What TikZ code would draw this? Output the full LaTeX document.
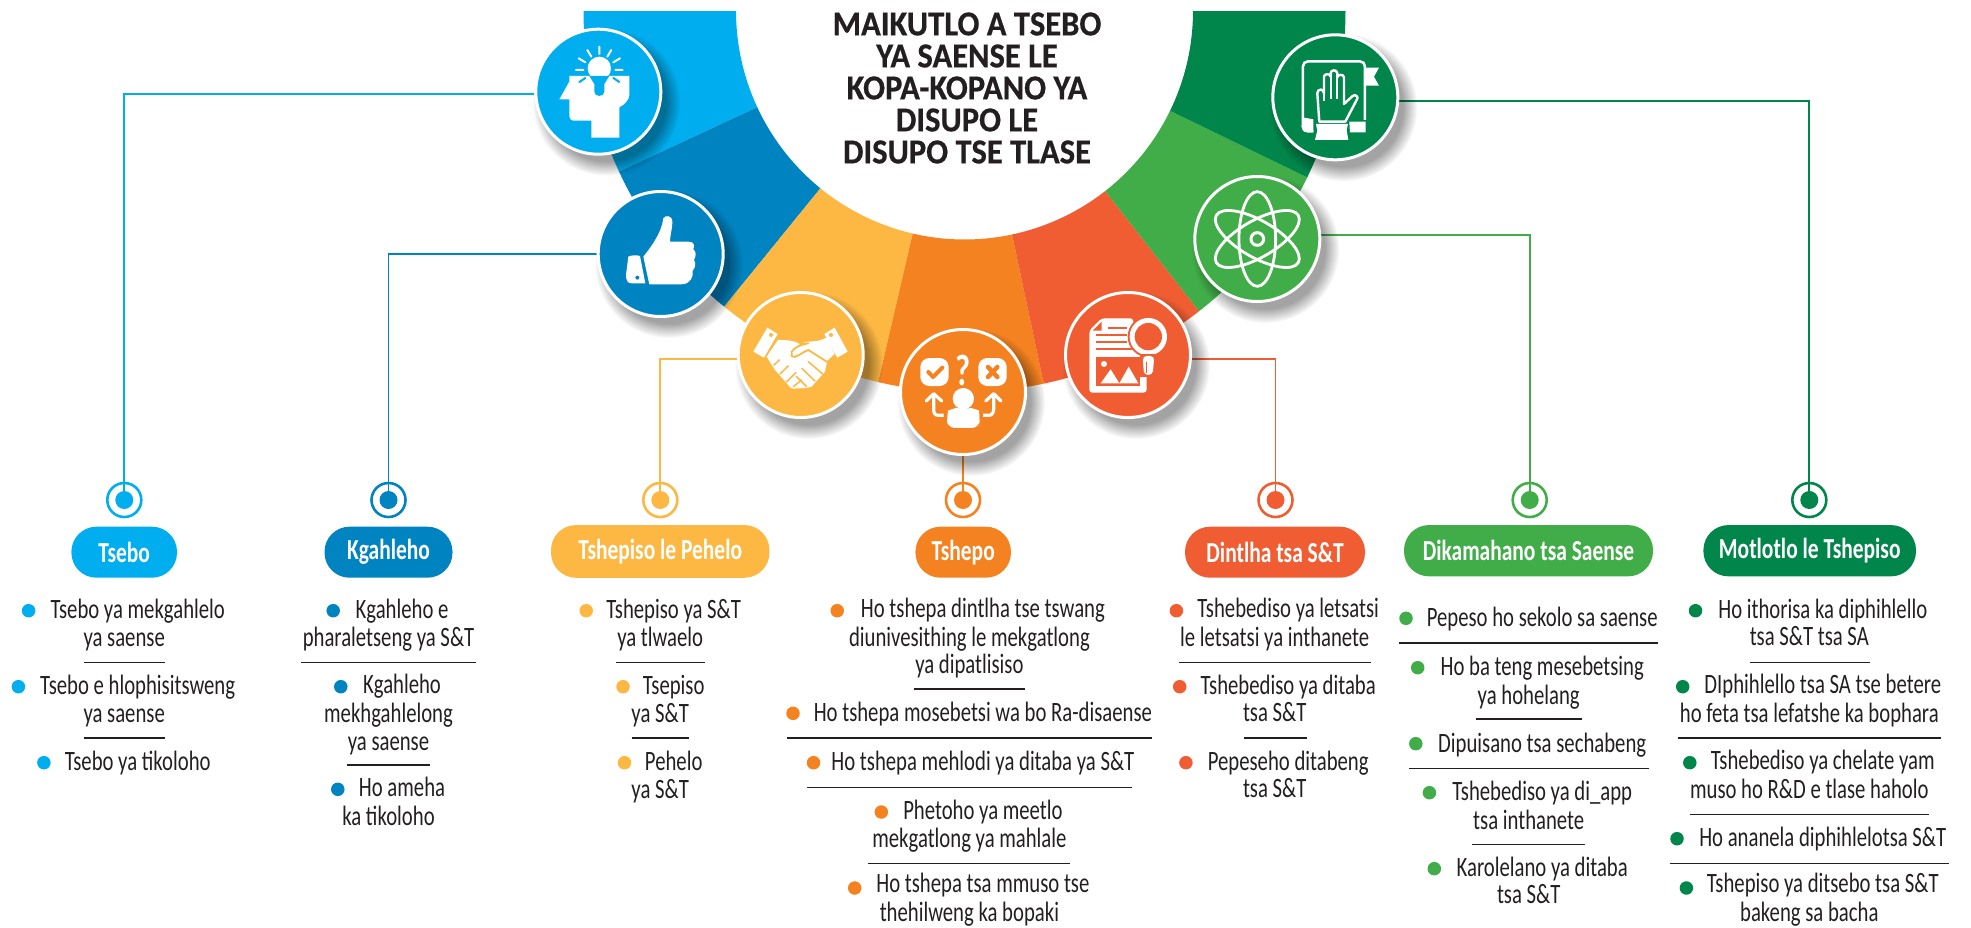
\documentclass[tikz,border=0pt]{standalone}
\usepackage{fontspec}
\setmainfont{Carlito}[FakeStretch=0.74]
\newfontfamily\ttlfont{Carlito Bold}[FakeStretch=0.93,FakeBold=0.5]
\usetikzlibrary{fadings,backgrounds}
\definecolor{ink}{HTML}{231F20}
\definecolor{cA}{HTML}{00AEEF}
\definecolor{cB}{HTML}{0083C1}
\definecolor{cC}{HTML}{FDB843}
\definecolor{cD}{HTML}{F58220}
\definecolor{cE}{HTML}{F15D33}
\definecolor{cF}{HTML}{41AD49}
\definecolor{cG}{HTML}{00854A}
\newcommand\stt{\rule[-8.25pt]{0pt}{27.5pt}}
\newcommand\seg[3]{\fill[#3] plot[domain=#1:#2,samples=40] ({964.5+228.5*cos(\x)},{11+228.5*sin(\x)}) -- plot[domain=#2:#1,samples=40] ({964.5+381*cos(\x)},{11+381*sin(\x)}) -- cycle;}
\newcommand\shad[2]{\fill[black,opacity=.36,path fading=circle with fuzzy edge 20 percent] (#1+8,#2+10) circle[radius=74];}
\newcommand\icon[4]{\shad{#2}{#3}\node[iconc,fill=#4] (#1) at (#2,#3) {};}
\newcommand\targ[4]{\node[tdot,fill=#4] (#1) at (#2,#3) {};\node[tring,draw=#4] (#1r) at (#2,#3) {};}
\newcommand\itm[4]{\node[itxt] (#1) at (#2,#3+2) {\stt\hspace*{27pt}#4\stt};}
\newcommand\bul[4]{\node[bdot,fill=#4] (#1) at (#2,#3) {};}
\newcommand\rl[3]{\draw[rulel] (#1,#3) -- (#2,#3);}
\newcommand\pill[7]{\node[pilln,fill=#7,minimum width=#4pt,minimum height=#5pt] (#1) at (#2,#3) {#6};}
\tikzset{
 iconc/.style={circle,draw=white,line width=3pt,minimum size=125pt,inner sep=0pt},
 tdot/.style={circle,minimum size=18pt,inner sep=0pt},
 tring/.style={circle,line width=2.6pt,minimum size=34pt,inner sep=0pt},
 bdot/.style={circle,minimum size=13.5pt,inner sep=0pt},
 itxt/.style={align=center,inner sep=0pt,text=ink,font=\fontsize{28}{27.5}\selectfont},
 pilln/.style={rounded corners=25pt,inner sep=0pt,text=white,font=\fontsize{29}{29}\selectfont\bfseries},
 rulel/.style={draw=ink,line width=1.2pt},
 conn/.style={line width=1.8pt},
 ray/.style={white,line width=2pt,line cap=round},
}
\begin{document}
\begin{tikzpicture}[x=1pt,y=-1pt]
\useasboundingbox (0,0) rectangle (1971,927);
% ring
\seg{180}{155.1}{cA}
\seg{155.1}{129.1}{cB}
\seg{129.1}{103.1}{cC}
\seg{103.1}{78}{cD}
\seg{78}{52}{cE}
\seg{52}{25.9}{cF}
\seg{25.9}{0}{cG}
% icon discs
\icon{ic1}{598.3}{91.7}{cA}
\icon{ic2}{660.7}{254}{cB}
\icon{ic3}{800.7}{355}{cC}
\icon{ic5}{1128}{355}{cE}
\icon{ic4}{963}{392}{cD}
\icon{ic6}{1257.3}{239}{cF}
\icon{ic7}{1335.3}{97.3}{cG}
% title
\node[align=center,inner sep=0pt,text=ink,font=\fontsize{35}{32}\ttlfont] (title) at (967,88)
 {MAIKUTLO A TSEBO\\YA SAENSE LE\\KOPA-KOPANO YA\\DISUPO LE\\DISUPO TSE TLASE};
% targets
\targ{t1}{124.3}{500}{cA}
\targ{t2}{388.5}{500}{cB}
\targ{t3}{660.3}{500}{cC}
\targ{t4}{963}{500}{cD}
\targ{t5}{1275.5}{500}{cE}
\targ{t6}{1529.7}{500}{cF}
\targ{t7}{1809.3}{500}{cG}
% connectors
\begin{pgfonlayer}{background}
\draw[conn,cA] ([yshift=-2pt]ic1.west) -| (t1);
\draw[conn,cB] (ic2.west) -| (t2);
\draw[conn,cC] ([yshift=-4pt]ic3.west) -| (t3);
\draw[conn,cD] (ic4.south) -- (t4);
\draw[conn,cE] ([yshift=-4pt]ic5.east) -| (t5);
\draw[conn,cF] ([yshift=4.3pt]ic6.east) -| (t6);
\draw[conn,cG] ([yshift=-3.4pt]ic7.east) -| (t7);
\end{pgfonlayer}
% pills
\pill{p1}{124.2}{552.2}{105.6}{51}{Tsebo}{cA}
\pill{p2}{388.5}{552.2}{128}{51}{Kgahleho}{cB}
\pill{p3}{660.2}{551.4}{218.4}{52.7}{Tshepiso le Pehelo}{cC}
\pill{p4}{963.2}{552.2}{95.5}{51}{Tshepo}{cD}
\pill{p5}{1275}{552.2}{180}{51}{Dintlha tsa S\&T}{cE}
\pill{p6}{1528.5}{550.7}{249}{51.3}{Dikamahano tsa Saense}{cF}
\pill{p7}{1809.7}{550.7}{212.6}{51.3}{Motlotlo le Tshepiso}{cG}
% column 1
\bul{b11}{28.6}{610.7}{cA}\itm{i11}{124.2}{625}{Tsebo ya mekgahlelo\\ya saense}\rl{83.7}{164.8}{662.3}
\bul{b12}{18.4}{686.7}{cA}\itm{i12}{124.2}{701}{Tsebo e hlophisitsweng\\ya saense}\rl{83.7}{164.8}{738}
\bul{b13}{43.9}{762.7}{cA}\itm{i13}{124.2}{763}{Tsebo ya tikoloho}
% column 2
\bul{b21}{333.2}{610.7}{cB}\itm{i21}{388.5}{625}{Kgahleho e\\pharaletseng ya S\&T}\rl{301}{476}{662.3}
\bul{b22}{340.8}{686.7}{cB}\itm{i22}{388.5}{714.3}{Kgahleho\\mekhgahlelong\\ya saense}\rl{347.4}{429.6}{765}
\bul{b23}{337.8}{789.3}{cB}\itm{i23}{388.5}{803.3}{Ho ameha\\ka tikoloho}
% column 3
\bul{b31}{586.2}{610.7}{cC}\itm{i31}{660.2}{625}{Tshepiso ya S\&T\\ya tlwaelo}\rl{615.8}{704.6}{662.3}
\bul{b32}{623}{686.7}{cC}\itm{i32}{660.2}{701}{Tsepiso\\ya S\&T}\rl{631.6}{689.3}{738}
\bul{b33}{624.5}{762.7}{cC}\itm{i33}{660.2}{777}{Pehelo\\ya S\&T}
% column 4
\bul{b41}{837.2}{610.7}{cD}\itm{i41}{969.4}{638}{Ho tshepa dintlha tse tswang\\diunivesithing le mekgatlong\\ya dipatlisiso}\rl{913.9}{1025}{689}
\bul{b42}{793}{713.3}{cD}\itm{i42}{969.4}{714.3}{Ho tshepa mosebetsi wa bo Ra-disaense}\rl{786.5}{1152}{738}
\bul{b43}{813.5}{762.7}{cD}\itm{i43}{969.4}{763}{Ho tshepa mehlodi ya ditaba ya S\&T}\rl{806.5}{1132}{787.7}
\bul{b44}{881.3}{812}{cD}\itm{i44}{969.4}{826}{Phetoho ya meetlo\\mekgatlong ya mahlale}\rl{868}{1070}{863.7}
\bul{b45}{854.7}{888}{cD}\itm{i45}{969.4}{899.5}{Ho tshepa tsa mmuso tse\\thehilweng ka bopaki}
% column 5
\bul{b51}{1176.4}{610.7}{cE}\itm{i51}{1274.7}{624.5}{Tshebediso ya letsatsi\\le letsatsi ya inthanete}\rl{1178.5}{1371}{662.3}
\bul{b52}{1179.7}{686.7}{cE}\itm{i52}{1274.7}{700.5}{Tshebediso ya ditaba\\tsa S\&T}\rl{1243.5}{1306.8}{738}
\bul{b53}{1185.9}{762.7}{cE}\itm{i53}{1274.7}{776.5}{Pepeseho ditabeng\\tsa S\&T}
% column 6
\bul{b61}{1406}{618.3}{cF}\itm{i61}{1528.7}{619}{Pepeso ho sekolo sa saense}\rl{1399.2}{1658.2}{643}
\bul{b62}{1417.7}{667.7}{cF}\itm{i62}{1528.7}{682.3}{Ho ba teng mesebetsing\\ya hohelang}\rl{1476}{1581.7}{719}
\bul{b63}{1415.8}{743.7}{cF}\itm{i63}{1528.7}{744.7}{Dipuisano tsa sechabeng}\rl{1409}{1648.8}{768.7}
\bul{b64}{1429.4}{792.7}{cF}\itm{i64}{1528.7}{807.3}{Tshebediso ya di\_app\\tsa inthanete}\rl{1472.3}{1585.4}{844.7}
\bul{b65}{1434.3}{868.7}{cF}\itm{i65}{1528.7}{882.6}{Karolelano ya ditaba\\tsa S\&T}
% column 7
\bul{b71}{1695.5}{610.7}{cG}\itm{i71}{1809.3}{624.5}{Ho ithorisa ka diphihlello\\tsa S\&T tsa SA}\rl{1749.8}{1869.6}{662.3}
\bul{b72}{1682.7}{686.7}{cG}\itm{i72}{1809.3}{700.6}{DIphihlello tsa SA tse betere\\ho feta tsa lefatshe ka bophara}\rl{1678}{1941.3}{738}
\bul{b73}{1689.8}{762.7}{cG}\itm{i73}{1809.3}{776.5}{Tshebediso ya chelate yam\\muso ho R\&D e tlase haholo}\rl{1689.8}{1929.2}{814.3}
\bul{b74}{1677}{838.7}{cG}\itm{i74}{1809.3}{839.3}{Ho ananela diphihlelotsa S\&T}\rl{1669.9}{1949.2}{863.7}
\bul{b75}{1686.4}{888}{cG}\itm{i75}{1809.3}{899.5}{Tshepiso ya ditsebo tsa S\&T\\bakeng sa bacha}
% ---------- icons, in crop coordinates
\begin{scope}[shift={(500,0)},x=.3333pt,y=-.3333pt]
% head
\fill[white] (298,205) circle[radius=35];
\fill[white] (208,228) -- (388,228) -- (388,285) .. controls (388,300) and (372,315) .. (358,322) -- (358,413) -- (274,413) -- (274,362) -- (222,362) .. controls (212,362) and (208,355) .. (208,345) -- (208,298) -- (178,298) -- (208,245) -- cycle;
\fill[cA] (268,228) -- (328,228) -- (313,252) -- (313,275) .. controls (313,292) and (283,292) .. (283,275) -- (283,252) -- cycle;
\draw[ray] (298,140) -- (298,162) (262,150) -- (274,170) (334,150) -- (322,170) (236,175) -- (256,187) (360,175) -- (340,187) (228,210) -- (250,210) (346,210) -- (368,210);
\draw[ray,cA] (238,246) -- (256,234) (358,246) -- (340,234);
% thumb
\fill[white] (385,770) .. controls (395,765) and (410,765) .. (420,768) -- (436,850) -- (395,850) .. controls (382,850) and (378,840) .. (378,825) -- cycle;
\fill[cB] (412,833) circle[radius=6];
\fill[white] (490,655) .. controls (495,645) and (517,645) .. (517,665) .. controls (517,690) and (510,705) .. (510,725) -- (565,725) .. controls (582,725) and (585,735) .. (580,748) .. controls (590,755) and (588,770) .. (582,780) .. controls (590,790) and (585,805) .. (578,812) .. controls (582,830) and (570,853) .. (545,853) -- (448,853) -- (430,770) .. controls (450,745) and (485,700) .. (490,655) -- cycle;
% handshake
\fill[white] (802,983) -- (833,1002) -- (792,1073) -- (760,1055) -- cycle;
\fill[white] (1004,983) -- (973,1002) -- (1012,1073) -- (1043,1055) -- cycle;
\fill[cC] (813,1005) circle[radius=6] (993,1005) circle[radius=6];
\fill[white] (834,1020) .. controls (855,1020) and (880,1020) .. (900,1032) .. controls (925,1020) and (950,1028) .. (968,1018) -- (982,1012) -- (1004,1062) -- (982,1082) -- (975,1115) -- (935,1160) .. controls (920,1165) and (905,1165) .. (890,1165) .. controls (880,1168) and (870,1165) .. (865,1155) -- (825,1110) -- (800,1070) -- cycle;
\draw[cC,line width=1.8pt,line cap=round] (985,1088) -- (925,1050) .. controls (900,1060) and (885,1078) .. (875,1068) .. controls (868,1050) and (895,1035) .. (925,1030) (900,1032) -- (925,1030);
\draw[cC,line width=1.5pt,line cap=round] (968,1122) -- (925,1085) (945,1143) -- (905,1105) (920,1160) -- (890,1130) (822,1095) -- (838,1080) (840,1122) -- (865,1098) (860,1145) -- (888,1118) (880,1160) -- (905,1140);
\end{scope}
% Tshepo icon
\begin{scope}[shift={(893,322)},x=.3333pt,y=-.3333pt]
\fill[white,rounded corners=9pt] (82,108) rectangle (167,192);
\fill[white,rounded corners=9pt] (256,108) rectangle (341,192);
\draw[cD,line width=4pt,line cap=round,line join=round] (106,150) -- (120,165) -- (148,137);
\draw[cD,line width=4.5pt,line cap=round] (285,135) -- (313,165) (313,135) -- (285,165);
\node[white,inner sep=0pt,font=\fontsize{44}{44}\selectfont\bfseries] (qm) at (211,146) {?};
\fill[white] (211,230) circle[radius=32];
\fill[white,rounded corners=8pt] (162,318) -- (162,290) .. controls (165,265) and (190,258) .. (211,262) .. controls (235,258) and (258,265) .. (260,290) -- (260,318) -- cycle;
\draw[white,line width=3.2pt,line join=round] (152,280) -- (135,280) .. controls (125,280) and (122,272) .. (122,262) -- (122,215);
\draw[white,line width=3.2pt,line join=round,line cap=round] (100,237) -- (122,215) -- (146,237);
\draw[white,line width=3.2pt,line join=round] (270,280) -- (287,280) .. controls (297,280) and (302,272) .. (302,262) -- (302,215);
\draw[white,line width=3.2pt,line join=round,line cap=round] (278,237) -- (302,215) -- (324,237);
\end{scope}
\begin{scope}[shift={(1000,0)},x=.3333pt,y=-.3333pt]
% document
\fill[white,rounded corners=3pt] (305,955) -- (400,955) -- (400,1000) -- (440,1060) -- (440,1178) -- (268,1178) -- (268,992) -- cycle;
\fill[cE] (305,965) -- (305,992) -- (278,992) -- cycle;
\draw[cE,line width=1.7pt] (325,985) -- (382,985) (288,1005) -- (382,1005) (288,1027) -- (382,1027) (288,1048) -- (400,1048);
\fill[cE] (288,1070) rectangle (420,1158);
\fill[white] (312,1092) circle[radius=9];
\fill[white] (302,1150) -- (332,1108) -- (358,1150) -- (386,1100) -- (415,1150) -- cycle;
\fill[cE] (445,1010) circle[radius=62];
\fill[white] (445,1010) circle[radius=56];
\fill[cE] (445,1010) circle[radius=41];
\fill[cE] (420,1062) rectangle (470,1132);
\fill[white,rounded corners=4pt] (428,1068) -- (463,1068) -- (458,1125) -- (432,1125) -- cycle;
\draw[cE,line width=1.5pt] (440,1085) -- (440,1120);
% atom
\draw[white,line width=2.8pt] (772,717) circle[x radius=55,y radius=142];
\draw[white,line width=2.8pt,rotate around={60:(772,717)}] (772,717) circle[x radius=55,y radius=142];
\draw[white,line width=2.8pt,rotate around={-60:(772,717)}] (772,717) circle[x radius=55,y radius=142];
\draw[white,line width=3pt] (772,717) circle[radius=19];
% book and hand
\draw[white,line width=2.5pt,rounded corners=5pt] (940,394) -- (908,394) .. controls (908,380) and (909,370) .. (909,355) -- (909,184) -- (1095,184) -- (1095,360);
\fill[white] (1097,203) -- (1137,203) -- (1122,230) -- (1137,257) -- (1097,257) -- cycle;
\fill[white] (908,352) -- (940,358) -- (940,396) -- (915,396) .. controls (905,395) and (905,380) .. (908,352) -- cycle;
\fill[white] (1048,365) -- (1097,365) -- (1097,397) -- (1050,397) -- cycle;
\draw[white,line width=2.4pt,line join=round,fill=cG] (958,365) -- (952,280) .. controls (952,265) and (972,265) .. (972,280) -- (972,230) .. controls (972,220) and (992,220) .. (992,230) -- (992,220) .. controls (992,208) and (1012,208) .. (1012,220) -- (1012,232) .. controls (1012,222) and (1032,222) .. (1032,232) -- (1032,312) -- (1058,288) .. controls (1066,280) and (1078,292) .. (1070,300) -- (1036,365) -- cycle;
\draw[white,line width=2pt] (972,280) -- (972,302) (992,230) -- (992,296) (1012,232) -- (1012,296);
\fill[white] (948,372) -- (1044,372) -- (1040,390) -- (1045,420) -- (945,420) -- (952,392) -- cycle;
\end{scope}
\end{tikzpicture}
\end{document}
